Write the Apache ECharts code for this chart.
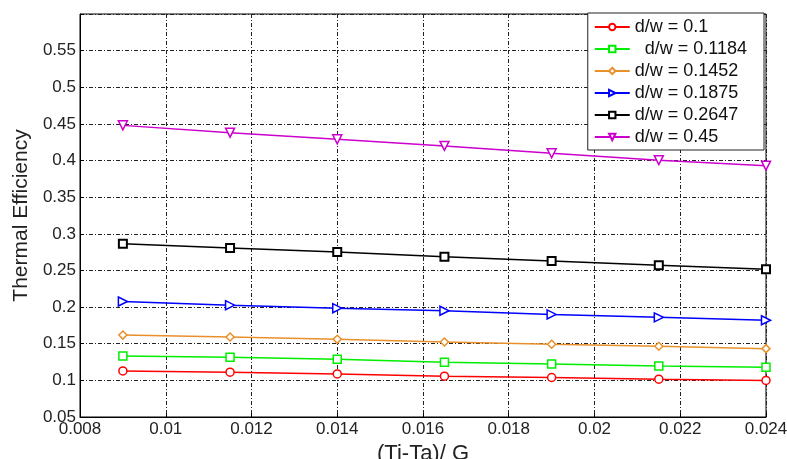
<!DOCTYPE html>
<html><head><meta charset="utf-8">
<script src="https://cdn.jsdelivr.net/npm/echarts@6/dist/echarts.min.js"></script>
<style>html,body{margin:0;padding:0;background:#fff}#c{width:787px;height:459px}</style>
</head><body><div id="c"></div>
<script>
const xValues = [0.009, 0.0115, 0.014, 0.0165, 0.019, 0.0215, 0.024];
const seriesNames = ['d/w = 0.1', '  d/w = 0.1184', 'd/w = 0.1452', 'd/w = 0.1875', 'd/w = 0.2647', 'd/w = 0.45'];
const dw01   = [0.1129, 0.1111, 0.1088, 0.1057, 0.1039, 0.1016, 0.0999];
const dw1184 = [0.1333, 0.1315, 0.1288, 0.1247, 0.1224, 0.1197, 0.1180];
const dw1452 = [0.1618, 0.1591, 0.1560, 0.1523, 0.1492, 0.1465, 0.1433];
const dw1875 = [0.2076, 0.2026, 0.1985, 0.1950, 0.1900, 0.1860, 0.1820];
const dw2647 = [0.2864, 0.2806, 0.2751, 0.2688, 0.2630, 0.2570, 0.2515];
const dw45   = [0.4480, 0.4380, 0.4290, 0.4200, 0.4100, 0.4005, 0.3930];
const allValues = [dw01, dw1184, dw1452, dw1875, dw2647, dw45];
const colors = ['#ff0000', '#00ee00', '#e8902a', '#0000ff', '#000000', '#cc00cc'];
const symbols = ['circle', 'rect', 'diamond', 'triangle', 'rect', 'triangle'];
const rotations = [0, 0, 0, -90, 0, 180];
const sizes = [8, 8, 8, 9, 8, 9];

const chart = echarts.init(document.getElementById('c'));
const gridLine = {show: true, lineStyle: {color: '#222', width: 1, type: [4, 2, 1, 2]}};
chart.setOption({
  animation: false,
  grid: {left: 80, right: 21, top: 14, bottom: 42, show: true, borderColor: '#000', borderWidth: 1,
    containLabel: false, outerBoundsMode: 'none'},
  xAxis: {
    type: 'value', min: 0.008, max: 0.024, interval: 0.002,
    name: '(Ti-Ta)/ G', nameLocation: 'middle', nameGap: 23,
    nameTextStyle: {fontFamily: 'Liberation Sans', fontSize: 22, color: '#222'},
    axisLine: {show: true, lineStyle: {color: '#000'}},
    axisTick: {show: true, inside: true, length: 4, lineStyle: {color: '#000'}},
    axisLabel: {fontFamily: 'Liberation Sans', fontSize: 17, color: '#222', margin: 4,
      formatter: v => String(+v.toFixed(3))},
    splitLine: gridLine
  },
  yAxis: {
    type: 'value', min: 0.05, max: 0.6, interval: 0.05,
    name: 'Thermal Efficiency', nameLocation: 'middle', nameGap: 45,
    nameTextStyle: {fontFamily: 'Liberation Sans', fontSize: 21, color: '#222'},
    axisLine: {show: true, lineStyle: {color: '#000'}},
    axisTick: {show: true, inside: true, length: 4, lineStyle: {color: '#000'}},
    axisLabel: {fontFamily: 'Liberation Sans', fontSize: 17, color: '#222', margin: 4,
      formatter: v => (Math.abs(v - 0.6) < 1e-9 ? '' : String(+v.toFixed(2)))},
    splitLine: gridLine
  },
  legend: {
    orient: 'vertical', right: 23, top: 13, itemGap: 4, itemWidth: 35, itemHeight: 8,
    backgroundColor: '#fff', borderColor: '#222', borderWidth: 1, padding: [5, 17, 4, 6],
    textStyle: {fontFamily: 'Liberation Sans', fontSize: 18, color: '#111'},
    data: seriesNames
  },
  series: allValues.map((vals, i) => ({
    name: seriesNames[i], type: 'line',
    data: xValues.map((x, j) => [x, vals[j]]),
    symbol: symbols[i], symbolSize: sizes[i], symbolRotate: rotations[i], showAllSymbol: true,
    lineStyle: {color: colors[i], width: 1.5},
    itemStyle: {color: '#fff', borderColor: colors[i], borderWidth: i === 4 ? 2 : 1.5}
  }))
});
</script></body></html>
